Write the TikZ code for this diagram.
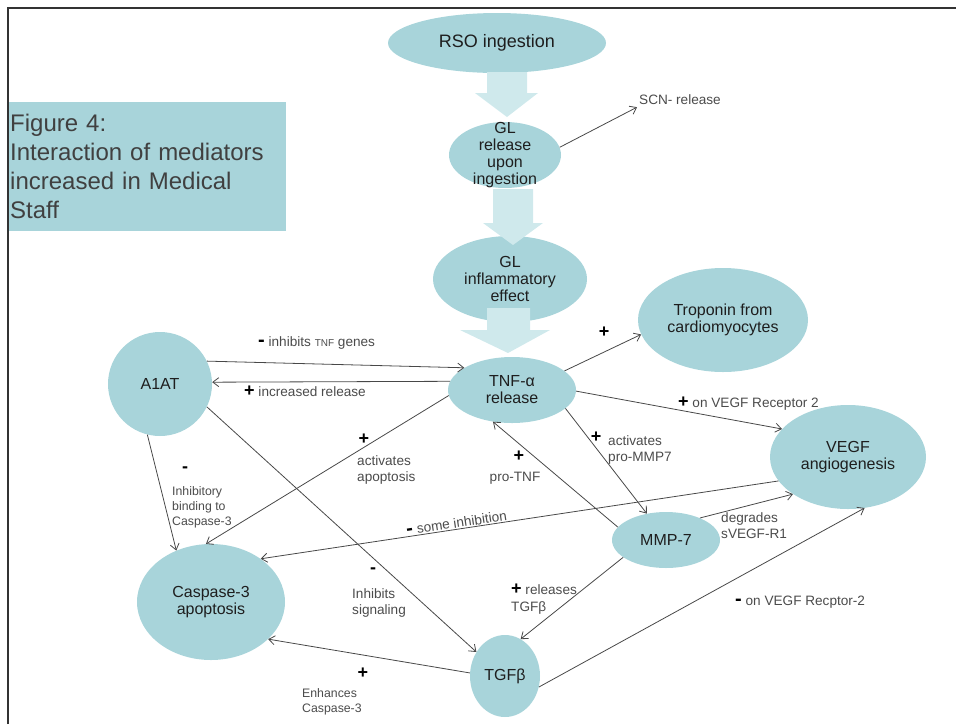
\documentclass[tikz,border=0pt]{standalone}
\usepackage{fontspec}
\setmainfont{Liberation Sans}
\usepackage{tikz}
\usetikzlibrary{shapes,arrows.meta}

\definecolor{nodeteal}{RGB}{168,212,218}
\definecolor{paleteal}{RGB}{207,233,236}
\definecolor{linegray}{RGB}{72,72,72}
\definecolor{textgray}{RGB}{30,30,30}
\definecolor{labelgray}{RGB}{75,75,75}

\newcommand{\plusmark}{{\color{black}\fontsize{18}{17}\selectfont\bfseries +}}
\newcommand{\minusmark}{{\color{black}\fontsize{20}{17}\selectfont\bfseries -}}

\begin{document}
\begin{tikzpicture}[x=1pt,y=-1pt]
\tikzset{
	teal node/.style = {ellipse, fill = nodeteal, inner sep = 0},
	node text/.style = {text = textgray, align = center, font = \fontsize{16}{17}\selectfont},
	edge label/.style = {text = labelgray, inner sep = 0, font = \fontsize{13.6}{16.5}\selectfont},
	small label/.style = {edge label, font = \fontsize{12.3}{15}\selectfont},
	sign/.style = {inner sep = 0, text = black, font = \fontsize{18}{18}\selectfont\bfseries},
	link/.style = {draw = linegray, line width = 0.8, -{Straight Barb[length=6pt,width=9pt]}},
	big arrow/.style = {fill = paleteal},
}

\useasboundingbox (0,0) rectangle (956,724);

\node[fill = nodeteal, anchor = north west, minimum height = 129, text width = 274, inner xsep = 2, inner ysep = 0, align = left, text = textgray!85, font = \fontsize{24}{29}\selectfont] (title) at (8,102) {Figure 4:\\Interaction of mediators\\increased in Medical\\Staff};

\draw[line width = 1.5, draw = black!80] (8,724) -- (8,8) -- (956,8);

\node[teal node, minimum width = 218, minimum height = 60, label = {[node text, font = \fontsize{18}{18}\selectfont]center:RSO ingestion}] (rso) at (497,43) {};
\node[teal node, minimum width = 112, minimum height = 66, label = {[node text]center:{GL\\release\\upon\\ingestion}}] (glrel) at (505,155) {};
\node[teal node, minimum width = 154, minimum height = 86, label = {[node text]center:{GL\\inflammatory\\effect}}] (glinf) at (510,279) {};
\node[teal node, minimum width = 128, minimum height = 66, label = {[node text]center:{TNF-α\\release}}] (tnf) at (512,390) {};
\node[teal node, minimum width = 170, minimum height = 104, label = {[node text]center:{Troponin from\\cardiomyocytes}}] (trop) at (723,320) {};
\node[teal node, minimum width = 156, minimum height = 104, label = {[node text]center:{VEGF\\angiogenesis}}] (vegf) at (848,457) {};
\node[teal node, minimum width = 108, minimum height = 56, label = {[node text]center:MMP-7}] (mmp) at (666,540) {};
\node[teal node, minimum width = 70, minimum height = 82, label = {[node text]center:TGFβ}] (tgf) at (505,676) {};
\node[teal node, minimum width = 148, minimum height = 116, label = {[node text]center:{Caspase-3\\apoptosis}}] (casp) at (211,602) {};
\node[teal node, minimum width = 104, minimum height = 104, label = {[node text]center:A1AT}] (a1at) at (160,384) {};

\fill[big arrow] (487,72) -- (527,72) -- (527,93) -- (538,93) -- (507,117) -- (475,93) -- (487,93) -- cycle;
\fill[big arrow] (493,189) -- (533,189) -- (533,223) -- (543,223) -- (513,245) -- (483,223) -- (493,223) -- cycle;
\fill[big arrow] (487,308) -- (530,308) -- (530,330) -- (550,330) -- (508,353) -- (460,330) -- (487,330) -- cycle;

\node[edge label, anchor = west, inner sep = 2] (lbscn) at (637,100) {SCN- release};
\node[edge label, anchor = west] (lbtnfgenes) at (258,343) {\minusmark{} inhibits {\fontsize{10}{12}\selectfont TNF} genes};
\node[edge label, anchor = west] (lbincr) at (244,391) {\plusmark{} increased release};
\node[sign] (sgtrop) at (604,332) {+};
\node[edge label, anchor = west] (lbvegf) at (678,404) {\plusmark{} on VEGF Receptor 2};
\node[sign] (sgapop) at (364,439) {+};
\node[edge label, anchor = north west, align = left] (lbapop) at (357,455) {activates\\apoptosis};
\node[sign] (sgmmp) at (596,437) {+};
\node[edge label, anchor = north west, align = left] (lbmmp) at (608,435) {activates\\pro-MMP7};
\node[sign] (sgpro) at (519,456) {+};
\node[edge label] (lbpro) at (515,478) {pro-TNF};
\node[sign] (sgbind) at (185,470) {-};
\node[small label, anchor = north west, align = left] (lbbind) at (172,486) {Inhibitory\\binding to\\Caspase-3};
\node[sign] (sgsig) at (373,571) {-};
\node[edge label, anchor = north west, align = left] (lbsig) at (352,588) {Inhibits\\signaling};
\node[edge label, anchor = north west, align = left] (lbdeg) at (721,512) {degrades\\sVEGF-R1};
\node[edge label, anchor = north west, align = left] (lbrel) at (511,584) {\plusmark{} releases\\TGFβ};
\node[sign] (sgenh) at (363,673) {+};
\node[small label, anchor = north west, align = left] (lbenh) at (302,688) {Enhances\\Caspase-3};
\node[edge label, anchor = west] (lbrec) at (735,602) {\minusmark{} on VEGF Recptor-2};

\draw[link] (glrel.8) -- (lbscn.south west);
\draw[link] (a1at.26) -- (tnf.155);
\draw[link] (tnf.172) -- (a1at.2);
\draw[link] (tnf.20) -- (trop.190);
\draw[link] (tnf.-1) -- (vegf.157);
\draw[link] (tnf.185) -- (casp.95);
\draw[link] (tnf.-19) -- (mmp.126);
\draw[link] (mmp.165) -- (tnf.239);
\draw[link] (a1at.256) -- (casp.124);
\draw[link] (a1at.-26) -- (tgf.140);
\draw[link] (vegf.199) -- node[edge label, sloped, above = 1, pos = 0.62] (lbinh) {\minusmark{} some inhibition} (casp.41);
\draw[link] (mmp.33) -- (vegf.214);
\draw[link] (mmp.202) -- (tgf.67);
\draw[link] (tgf.175) -- (casp.-33);
\draw[link] (tgf.-18) -- (vegf.-72);

\end{tikzpicture}
\end{document}
